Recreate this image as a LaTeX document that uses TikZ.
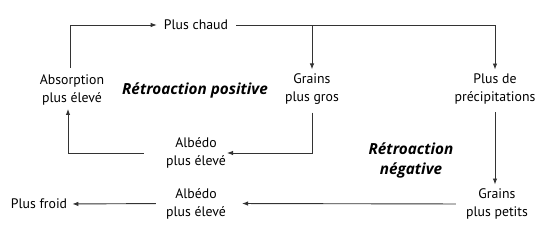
\documentclass[tikz,border=0pt]{standalone}
\usepackage{fontspec}
\setmainfont{PT Sans}
\newfontfamily\ttlfont{Open Sans}
\usetikzlibrary{arrows.meta}
\begin{document}
\begin{tikzpicture}[x=1pt,y=-1pt,
  lbl/.style={align=center,inner sep=0pt,font=\fontsize{13.8}{18}\selectfont},
  ttl/.style={align=center,inner sep=0pt,font=\ttlfont\fontsize{15.3}{20}\selectfont\bfseries\itshape},
  conn/.style={draw=black!80,line width=0.9pt,-{Latex[length=6pt,width=4.5pt]}}]
\useasboundingbox (0,0) rectangle (550,232);
\node[lbl] (chaud) at (196,25) {Plus chaud};
\node[lbl] (abs) at (72,89.5) {Absorption\\plus élevé};
\node[lbl] (gros) at (312,89) {Grains\\plus gros};
\node[lbl] (prec) at (495,89) {Plus de\\précipitations};
\node[lbl] (alb1) at (196,153) {Albédo\\plus élevé};
\node[lbl] (alb2) at (196,203.5) {Albédo\\plus élevé};
\node[lbl] (petits) at (497,204) {Grains\\plus petits};
\node[lbl] (froid) at (39,204) {Plus froid};
\node[ttl] (pos) at (195,90) {Rétroaction positive};
\node[ttl] (neg) at (411,160) {Rétroaction\\négative};
% top loop
\draw[conn,shorten <=6pt,shorten >=7pt] ([xshift=-2pt]abs.north) |- (chaud.west);
\draw[conn,shorten <=8pt,shorten >=4pt] (chaud.east) -| (gros.north);
\draw[conn,shorten <=8pt,shorten >=4pt] (chaud.east) -| (prec.north);
\draw[conn,shorten <=8pt,shorten >=1pt] (gros.south) |- (alb1.east);
\draw[conn,shorten <=22pt,shorten >=4pt] (alb1.west) -| ([xshift=-4pt]abs.south);
% right branch
\draw[conn,shorten <=8pt,shorten >=4pt] (prec.south) -- (prec.south |- petits.north);
\draw[conn,shorten <=10pt,shorten >=16pt] (petits.west) -- (alb2.east);
\draw[conn,shorten <=10pt,shorten >=5pt] (alb2.west) -- (froid.east);
\end{tikzpicture}
\end{document}
